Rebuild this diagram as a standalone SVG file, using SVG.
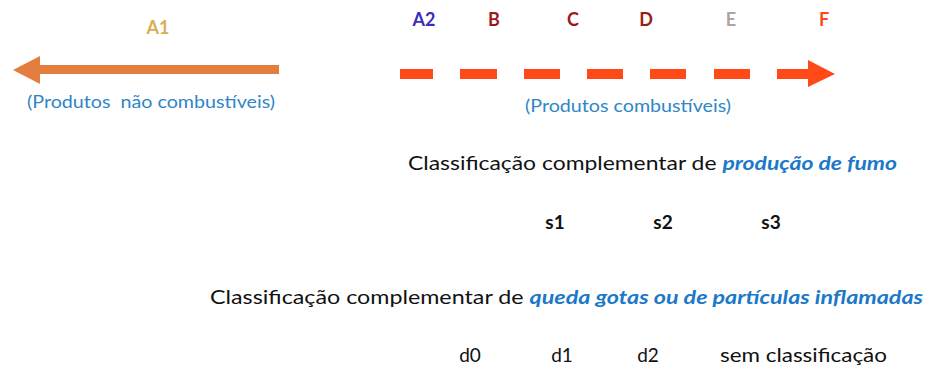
<svg xmlns="http://www.w3.org/2000/svg" width="931" height="370" viewBox="0 0 931 370">
<style>
text{font-family:Lato,"Open Sans","Liberation Sans",sans-serif;}
.cls{font-size:18px;font-weight:bold;}
.cap{font-size:17px;fill:#2E86C8;}
.lbl{font-size:19px;fill:#111;}
.em{font-weight:bold;font-style:italic;fill:#1C78C8;}
.s{font-size:19px;font-weight:bold;fill:#111;}
</style>
<rect width="931" height="370" fill="#fff"/>
<g id="connectors">
<g id="arrow-noncomb">
<rect x="38" y="65" width="241" height="9" fill="#E37E3E"/>
<polygon points="13,70 40,56 40,84" fill="#E37E3E"/>
</g>
<g id="arrow-comb" fill="#FF4A17">
<rect x="400" y="69" width="33" height="10"/>
<rect x="460" y="69" width="37" height="10"/>
<rect x="524" y="69" width="36" height="10"/>
<rect x="587" y="69" width="36" height="10"/>
<rect x="650" y="69" width="36" height="10"/>
<rect x="714" y="69" width="36" height="10"/>
<rect x="777" y="69" width="33" height="10"/>
<polygon points="808,60 835,74 808,87"/>
</g>
</g>
<g id="node-A1"><text class="cls" x="158" y="34" text-anchor="middle" fill="#D9AE52">A1</text></g>
<g id="node-noncomb"><text class="cap" x="27" y="108" xml:space="preserve" textLength="248" lengthAdjust="spacingAndGlyphs">(Produtos  não combustíveis)</text></g>
<g id="node-A2"><text class="cls" x="424" y="26" text-anchor="middle" fill="#3B2FB8">A2</text></g>
<g id="node-B"><text class="cls" x="494" y="26" text-anchor="middle" fill="#9C1A1A">B</text></g>
<g id="node-C"><text class="cls" x="573" y="26" text-anchor="middle" fill="#9C1A1A">C</text></g>
<g id="node-D"><text class="cls" x="646" y="26" text-anchor="middle" fill="#9C1A1A">D</text></g>
<g id="node-E"><text class="cls" x="731" y="26" text-anchor="middle" fill="#AFA3A3">E</text></g>
<g id="node-F"><text class="cls" x="824" y="26" text-anchor="middle" fill="#FF4A17">F</text></g>
<g id="node-comb"><text class="cap" x="525" y="112" textLength="206" lengthAdjust="spacingAndGlyphs">(Produtos combustíveis)</text></g>
<g id="node-fumo"><text class="lbl" x="408" y="170" textLength="489" lengthAdjust="spacingAndGlyphs">Classificação complementar de <tspan class="em">produção de fumo</tspan></text></g>
<g id="node-s1"><text class="s" x="555" y="229" text-anchor="middle">s1</text></g>
<g id="node-s2"><text class="s" x="663" y="229" text-anchor="middle">s2</text></g>
<g id="node-s3"><text class="s" x="771" y="229" text-anchor="middle">s3</text></g>
<g id="node-gotas"><text class="lbl" x="210" y="304" textLength="713" lengthAdjust="spacingAndGlyphs">Classificação complementar de <tspan class="em">queda gotas ou de partículas inflamadas</tspan></text></g>
<g id="node-d0"><text class="lbl" x="470" y="362" text-anchor="middle">d0</text></g>
<g id="node-d1"><text class="lbl" x="562" y="362" text-anchor="middle">d1</text></g>
<g id="node-d2"><text class="lbl" x="648" y="362" text-anchor="middle">d2</text></g>
<g id="node-sem"><text class="lbl" x="720" y="362" textLength="167" lengthAdjust="spacingAndGlyphs">sem classificação</text></g>
</svg>
